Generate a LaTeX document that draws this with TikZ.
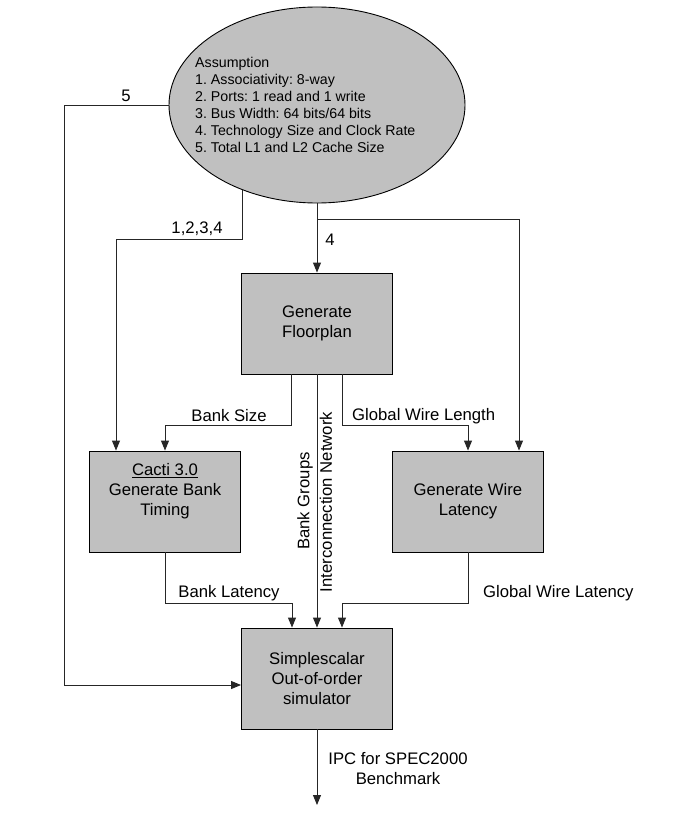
\documentclass[tikz,border=0pt]{standalone}
\usepackage{fontspec}
\setmainfont{Liberation Sans}
\usetikzlibrary{arrows.meta,shapes.geometric}
\definecolor{boxgray}{HTML}{C0C0C0}
\frenchspacing
\begin{document}
\begin{tikzpicture}[x=1pt,y=-1pt,
  box/.style={draw=black,fill=boxgray,line width=0.9pt,minimum width=151pt,minimum height=101pt,inner sep=0pt,align=center,font=\fontsize{16.7}{20}\selectfont},
  conn/.style={line width=0.9pt,draw=black!85},
  arr/.style={conn,-{Triangle[length=10pt,width=8pt]}},
  lbl/.style={font=\fontsize{16.7}{20}\selectfont,inner sep=0pt}]
\useasboundingbox (0,0) rectangle (690,818);
% assumption ellipse
\node[ellipse,draw=black,fill=boxgray,line width=0.9pt,minimum width=296pt,minimum height=196pt,inner sep=0pt] (ass) at (317,105) {};
\node[anchor=west,align=left,inner sep=0pt,font=\fontsize{14.2}{17}\selectfont\frenchspacing] (asstext) at (195,104.5)
  {Assumption\\1. Associativity: 8-way\\2. Ports: 1 read and 1 write\\3. Bus Width: 64 bits/64 bits\\4. Technology Size and Clock Rate\\5. Total L1 and L2 Cache Size};
% boxes
\node[box] (fp) at (317,323.5) {Generate\\Floorplan};
\node[box] (cacti) at (165,501.5) {};
\node[lbl,align=center] (cactitext) at (165,491) {\underline{Cacti 3.0}\\Generate Bank\\Timing};
\node[box] (wire) at (468,501.5) {Generate Wire\\Latency};
\node[box] (sim) at (317,678.5) {Simplescalar\\Out-of-order\\simulator};
% connector 5
\coordinate (c5a) at (64,105);
\coordinate (c5b) at (64,685);
\draw[arr] (ass.west) -- (c5a) -- (c5b) -- (c5b -| sim.west);
\node[lbl] (l5) at (126,96) {5};
% connector 1,2,3,4
\coordinate (k1) at (242,239);
\coordinate (k2) at (116,239);
\draw[arr] (k1 |- ass.228) -- (k1) -- (k2) -- (k2 |- cacti.north);
\node[lbl] (l1234) at (197,229) {1,2,3,4};
% connector 4
\draw[arr] (ass.south) -- (fp.north);
\node[lbl] (l4) at (330,240) {4};
\coordinate (b1) at (317,219);
\coordinate (b2) at (519,219);
\draw[arr] (b1) -- (b2) -- (b2 |- wire.north);
% bank size
\coordinate (bs1) at (291,425);
\coordinate (bs2) at (165,425);
\draw[arr] (bs1 |- fp.south) -- (bs1) -- (bs2) -- (cacti.north);
\node[lbl] (lbs) at (229,416) {Bank Size};
% center
\draw[arr] (fp.south) -- (sim.north);
\node[lbl,rotate=90] (lbg) at (305,501) {Bank Groups};
\node[lbl,rotate=90] (licn) at (326,502) {Interconnection Network};
% global wire length
\coordinate (gw1) at (342,425);
\coordinate (gw2) at (468,425);
\draw[arr] (gw1 |- fp.south) -- (gw1) -- (gw2) -- (wire.north);
\node[lbl,anchor=west] (lgw) at (352,416) {Global Wire Length};
% bank latency
\coordinate (bl1) at (165,603);
\coordinate (bl2) at (292,603);
\draw[arr] (cacti.south) -- (bl1) -- (bl2) -- (bl2 |- sim.north);
\node[lbl] (lbl) at (229,593) {Bank Latency};
% global wire latency
\coordinate (gl1) at (468,603);
\coordinate (gl2) at (342,603);
\draw[arr] (wire.south) -- (gl1) -- (gl2) -- (gl2 |- sim.north);
\node[lbl,anchor=west] (lgl) at (483,593) {Global Wire Latency};
% output
\coordinate (out) at (317,805);
\draw[arr] (sim.south) -- (out);
\node[lbl,align=center] (lipc) at (398,769) {IPC for SPEC2000\\Benchmark};
\end{tikzpicture}
\end{document}
